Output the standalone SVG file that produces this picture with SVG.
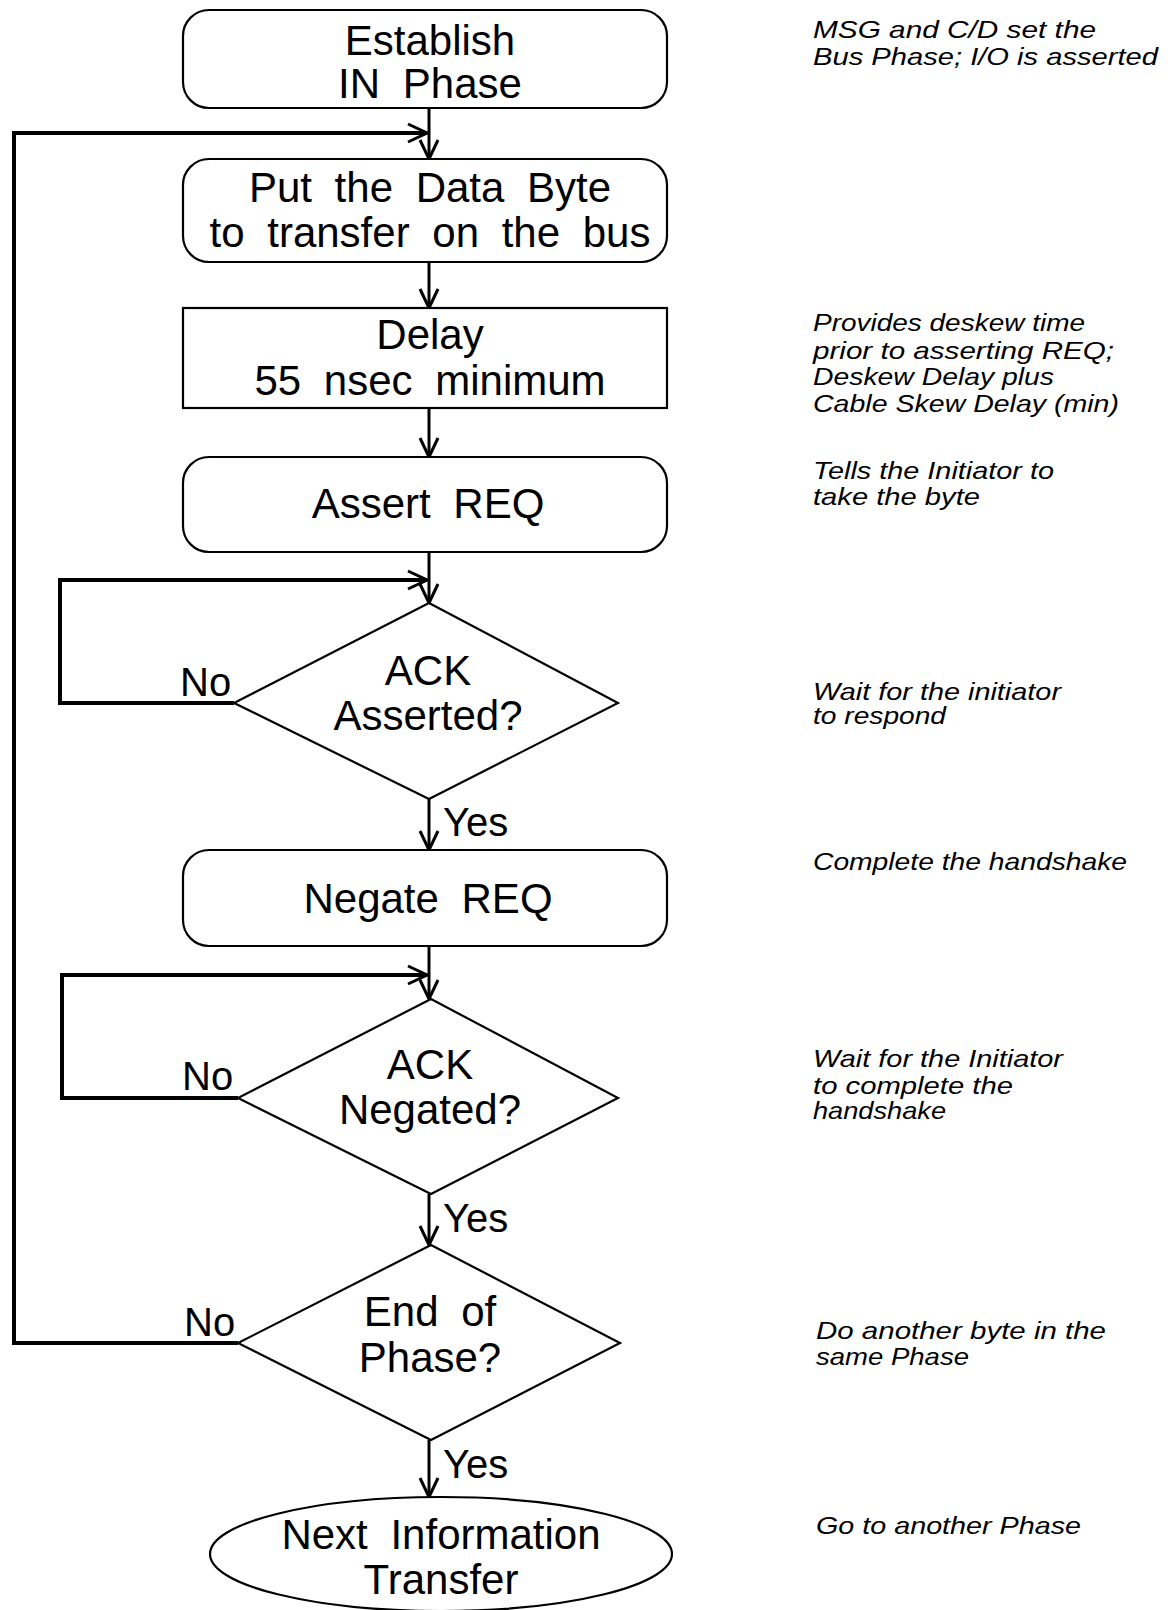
<svg xmlns="http://www.w3.org/2000/svg" width="1168" height="1610" viewBox="0 0 1168 1610">
<defs>
<style>
.box{fill:#fff;stroke:#000;stroke-width:2.2}
.lbl{font-family:"Liberation Sans",Arial,sans-serif;font-size:42px;text-anchor:middle;word-spacing:11px;fill:#000}
.yn{font-family:"Liberation Sans",Arial,sans-serif;font-size:40px;fill:#000}
.note{font-family:"Liberation Sans",Arial,sans-serif;font-style:italic;font-size:24px;fill:#000}
.conn{fill:none;stroke:#000;stroke-width:3}
.loop{fill:none;stroke:#000;stroke-width:4}
</style>
<marker id="arr" viewBox="0 0 22 22" refX="21" refY="11" markerWidth="22" markerHeight="22" markerUnits="userSpaceOnUse" orient="auto">
<path d="M2,2 L21,11 L2,20" fill="none" stroke="#000" stroke-width="3"/>
</marker>
</defs>

<g id="connectors">
<line class="conn" x1="429" y1="108" x2="429" y2="159" marker-end="url(#arr)"/>
<line class="conn" x1="429" y1="262" x2="429" y2="308" marker-end="url(#arr)"/>
<line class="conn" x1="429" y1="408" x2="429" y2="457" marker-end="url(#arr)"/>
<line class="conn" x1="429" y1="552" x2="429" y2="603" marker-end="url(#arr)"/>
<line class="conn" x1="429" y1="799" x2="429" y2="850" marker-end="url(#arr)"/>
<line class="conn" x1="429" y1="946" x2="429" y2="999" marker-end="url(#arr)"/>
<line class="conn" x1="429" y1="1194" x2="429" y2="1245" marker-end="url(#arr)"/>
<line class="conn" x1="429" y1="1440" x2="429" y2="1497" marker-end="url(#arr)"/>
<polyline class="loop" points="234,703 60,703 60,580 427,580" marker-end="url(#arr)"/>
<polyline class="loop" points="238,1098 62,1098 62,975 427,975" marker-end="url(#arr)"/>
<polyline class="loop" points="238,1343 14,1343 14,133 427,133" marker-end="url(#arr)"/>
<text class="yn" x="180" y="696">No</text>
<text class="yn" x="182" y="1090">No</text>
<text class="yn" x="184" y="1336">No</text>
<text class="yn" x="443" y="836">Yes</text>
<text class="yn" x="443" y="1232">Yes</text>
<text class="yn" x="443" y="1478">Yes</text>
</g>

<g id="establish">
<rect class="box" x="183" y="10" width="484" height="98" rx="26"/>
<text class="lbl" x="430" y="55">Establish</text>
<text class="lbl" x="430" y="98">IN Phase</text>
</g>
<g id="putbyte">
<rect class="box" x="183" y="159" width="484" height="103" rx="26"/>
<text class="lbl" x="430" y="202">Put the Data Byte</text>
<text class="lbl" x="430" y="247">to transfer on the bus</text>
</g>
<g id="delay">
<rect class="box" x="183" y="308" width="484" height="100"/>
<text class="lbl" x="430" y="349">Delay</text>
<text class="lbl" x="430" y="395">55 nsec minimum</text>
</g>
<g id="assertreq">
<rect class="box" x="183" y="457" width="484" height="95" rx="26"/>
<text class="lbl" x="428" y="518">Assert REQ</text>
</g>
<g id="ackasserted">
<polygon class="box" points="429,603 618,703 429,799 234,703"/>
<text class="lbl" x="428" y="685">ACK</text>
<text class="lbl" x="428" y="730">Asserted?</text>
</g>
<g id="negatereq">
<rect class="box" x="183" y="850" width="484" height="96" rx="26"/>
<text class="lbl" x="428" y="913">Negate REQ</text>
</g>
<g id="acknegated">
<polygon class="box" points="431,999 618,1098 431,1194 238,1098"/>
<text class="lbl" x="430" y="1079">ACK</text>
<text class="lbl" x="430" y="1124">Negated?</text>
</g>
<g id="endofphase">
<polygon class="box" points="431,1245 620,1343 431,1440 238,1343"/>
<text class="lbl" x="430" y="1326">End of</text>
<text class="lbl" x="430" y="1372">Phase?</text>
</g>
<g id="nextinfo">
<ellipse class="box" cx="441" cy="1554" rx="231" ry="57"/>
<text class="lbl" x="441" y="1549">Next Information</text>
<text class="lbl" x="441" y="1594">Transfer</text>
</g>

<g id="notes">
<text class="note" x="813" y="38" textLength="283" lengthAdjust="spacingAndGlyphs">MSG and C/D set the</text>
<text class="note" x="813" y="65" textLength="345" lengthAdjust="spacingAndGlyphs">Bus Phase; I/O is asserted</text>
<text class="note" x="813" y="331" textLength="272" lengthAdjust="spacingAndGlyphs">Provides deskew time</text>
<text class="note" x="813" y="359" textLength="301" lengthAdjust="spacingAndGlyphs">prior to asserting REQ;</text>
<text class="note" x="813" y="385" textLength="241" lengthAdjust="spacingAndGlyphs">Deskew Delay plus</text>
<text class="note" x="813" y="412" textLength="306" lengthAdjust="spacingAndGlyphs">Cable Skew Delay (min)</text>
<text class="note" x="813" y="479" textLength="241" lengthAdjust="spacingAndGlyphs">Tells the Initiator to</text>
<text class="note" x="813" y="505" textLength="167" lengthAdjust="spacingAndGlyphs">take the byte</text>
<text class="note" x="813" y="700" textLength="248" lengthAdjust="spacingAndGlyphs">Wait for the initiator</text>
<text class="note" x="813" y="724" textLength="133" lengthAdjust="spacingAndGlyphs">to respond</text>
<text class="note" x="813" y="870" textLength="314" lengthAdjust="spacingAndGlyphs">Complete the handshake</text>
<text class="note" x="813" y="1067" textLength="250" lengthAdjust="spacingAndGlyphs">Wait for the Initiator</text>
<text class="note" x="813" y="1094" textLength="200" lengthAdjust="spacingAndGlyphs">to complete the</text>
<text class="note" x="813" y="1119" textLength="133" lengthAdjust="spacingAndGlyphs">handshake</text>
<text class="note" x="816" y="1339" textLength="290" lengthAdjust="spacingAndGlyphs">Do another byte in the</text>
<text class="note" x="816" y="1365" textLength="153" lengthAdjust="spacingAndGlyphs">same Phase</text>
<text class="note" x="816" y="1534" textLength="265" lengthAdjust="spacingAndGlyphs">Go to another Phase</text>
</g>
</svg>
